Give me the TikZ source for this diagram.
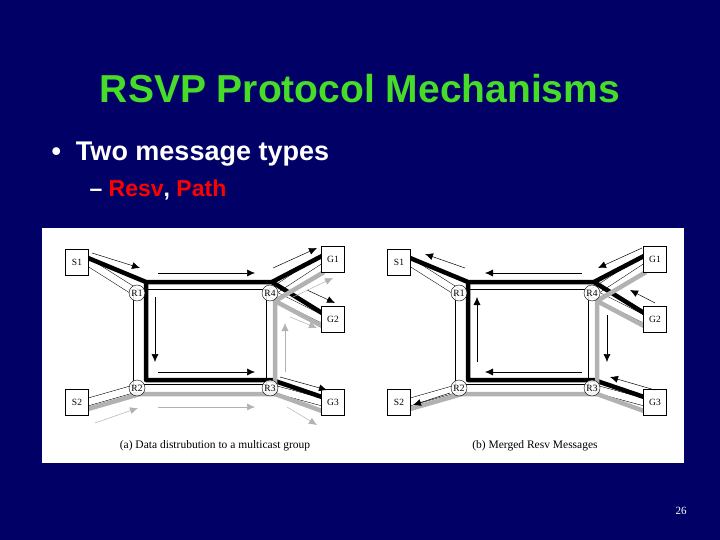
\documentclass[tikz,border=0pt]{standalone}
\usepackage{fontspec}
\setmainfont{Liberation Serif}
\newfontfamily\hv{Liberation Sans}
\usetikzlibrary{arrows.meta}
\begin{document}
\begin{tikzpicture}[x=1pt,y=-1pt,
  link/.style={double distance=7pt,draw=black,line width=0.5pt,double=white},
  thk/.style={line width=4.5pt,black,line join=round},
  gry/.style={line width=4.5pt,black!30,line join=round},
  ar/.style={-{Latex[length=8pt,width=7pt]},line width=0.5pt},
  gar/.style={-{Latex[length=8pt,width=7pt]},line width=0.5pt,black!30},
  box/.style={draw,fill=white,minimum width=23pt,minimum height=26pt,inner sep=0pt,font=\fontsize{9.5}{9.5}\selectfont},
  rt/.style={draw,circle,fill=white,fill opacity=0.85,text opacity=1,minimum size=16pt,inner sep=0pt,font=\fontsize{9.5}{9.5}\selectfont},
  lbl/.style={font=\fontsize{11.5}{12}\selectfont}]
\useasboundingbox (0,0) rectangle (720,540);
\fill[fill={rgb,255:red,0;green,0;blue,102}] (0,0) rectangle (720,540);
\node[font=\hv\bfseries\fontsize{39}{44}\selectfont,text={rgb,255:red,70;green,220;blue,40}] (title) at (360,89) {RSVP Protocol Mechanisms};
\node[anchor=west,font=\hv\bfseries\fontsize{27}{30}\selectfont,white] (b1) at (48,154) {\textbullet\ \ Two message types};
\node[anchor=west,font=\hv\bfseries\fontsize{23}{26}\selectfont,white] (b2) at (86,190) {\textendash\ \textcolor{red}{Resv}, \textcolor{red}{Path}};
\fill[white] (42,228) rectangle (684,463) coordinate (panel);
\node[white,font=\fontsize{11}{12}\selectfont] (pg) at (681,511) {26};
\tikzset{net/.pic={
  \coordinate (-cr1) at (137,293);
  \coordinate (-cr4) at (270,293);
  \coordinate (-cr2) at (137,388);
  \coordinate (-cr3) at (270,388);
  \coordinate (-cs1) at (88,262);
  \coordinate (-cs2) at (88,402);
  \coordinate (-cg1) at (322,259);
  \coordinate (-cg2) at (322,319);
  \coordinate (-cg3) at (322,402);
  \draw[link] (-cs1) -- (-cr1);
  \draw[link] (-cs2) -- (-cr2);
  \draw[link] (-cr1) -- (-cr4);
  \draw[link] (-cr1) -- (-cr2);
  \draw[link] (-cr2) -- (-cr3);
  \draw[link] (-cr4) -- (-cr3);
  \draw[link] (-cr4) -- (-cg1);
  \draw[link] (-cr4) -- (-cg2);
  \draw[link] (-cr3) -- (-cg3);
  \draw[thk] (88,258) -- (146,282) -- (272,282) -- (322,256);
  \draw[thk] (272,282) -- (322,313);
  \draw[thk] (146,282) -- (146,380) -- (272,380) -- (322,397);
  \draw[gry] (88,409) -- (140,394) -- (275,394) -- (275,301) -- (324,272);
  \draw[gry] (275,301) -- (322,326);
  \draw[gry] (275,394) -- (322,411);
  \node[rt] (-r1) at (-cr1) {R1};
  \node[rt] (-r4) at (-cr4) {R4};
  \node[rt] (-r2) at (-cr2) {R2};
  \node[rt] (-r3) at (-cr3) {R3};
  \node[box] (-s1) at (77,262) {S1};
  \node[box] (-s2) at (77,402) {S2};
  \node[box] (-g1) at (333,259) {G1};
  \node[box] (-g2) at (333,319) {G2};
  \node[box] (-g3) at (333,402) {G3};
}}
\pic (a) at (0,0) {net};
\draw[ar] (92,253) -- (140,268);
\draw[ar] (158,273) -- (255,273);
\draw[ar] (155,297) -- (155,362);
\draw[ar] (158,372) -- (255,372);
\draw[ar] (273,268) -- (317,248);
\draw[ar] (307,290) -- (335,303);
\draw[ar] (280,377) -- (327,390);
\draw[gar] (95,423) -- (138,408);
\draw[gar] (158,407) -- (255,407);
\draw[gar] (285,372) -- (285,323);
\draw[gar] (293,297) -- (333,278);
\draw[gar] (290,317) -- (317,328);
\draw[gar] (287,407) -- (317,425);
\node[lbl] (capa) at (215,446) {(a) Data distrubution to a multicast group};
\pic (b) at (322,0) {net};
\draw[ar] (465,268) -- (425,254);
\draw[ar] (582,273) -- (485,273);
\draw[ar] (477,362) -- (477,297);
\draw[ar] (582,372) -- (485,372);
\draw[ar] (642,248) -- (598,268);
\draw[ar] (655,303) -- (630,290);
\draw[ar] (655,390) -- (610,377);
\draw[ar] (450,393) -- (413,405);
\draw[ar] (607,315) -- (607,362);
\node[lbl] (capb) at (535,446) {(b) Merged Resv Messages};
\end{tikzpicture}
\end{document}
